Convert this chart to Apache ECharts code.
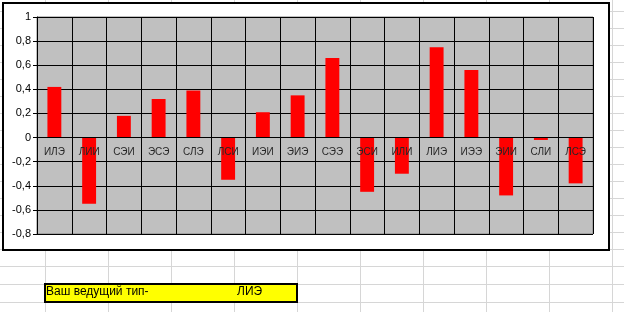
<!DOCTYPE html>
<html>
<head>
<meta charset="utf-8">
<script src="https://cdn.jsdelivr.net/npm/echarts@6/dist/echarts.min.js"></script>
<style>
  html, body { margin: 0; padding: 0; background: #ffffff; }
  #chart { width: 624px; height: 312px; }
</style>
</head>
<body>
<div id="chart"></div>
<script>
// Socionics type scores
const types = ['ИЛЭ', 'ЛИИ', 'СЭИ', 'ЭСЭ', 'СЛЭ', 'ЛСИ', 'ИЭИ', 'ЭИЭ',
               'СЭЭ', 'ЭСИ', 'ИЛИ', 'ЛИЭ', 'ИЭЭ', 'ЭИИ', 'СЛИ', 'ЛСЭ'];
const scores = [0.42, -0.55, 0.18, 0.32, 0.39, -0.35, 0.21, 0.35,
                0.66, -0.45, -0.30, 0.75, 0.56, -0.48, -0.02, -0.38];
const resultLabel = 'Ваш ведущий тип-';
const resultType = 'ЛИЭ';

const FONT = 'Arial, "Liberation Sans", sans-serif';
const GRID = { left: 37, right: 31, top: 17, bottom: 78 };
const H = 312;

// Worksheet cell lines behind the chart
const sheet = [];
for (let x = 45; x <= 624; x += 63) {
  sheet.push({ type: 'line', z: -20, silent: true,
    shape: { x1: x + 0.5, y1: 0, x2: x + 0.5, y2: 312 },
    style: { stroke: '#d6d6d6', lineWidth: 1 } });
}
const rowYs = [];
for (let y = 11; y <= 266; y += 17) rowYs.push(y);
rowYs.push(284, 302);
rowYs.forEach(y => {
  sheet.push({ type: 'line', z: -20, silent: true,
    shape: { x1: 0, y1: y + 0.5, x2: 624, y2: y + 0.5 },
    style: { stroke: '#d6d6d6', lineWidth: 1 } });
});

const chart = echarts.init(document.getElementById('chart'), null, { renderer: 'canvas' });
chart.setOption({
  animation: false,
  backgroundColor: '#ffffff',
  graphic: sheet.concat([
    // chart frame
    { type: 'rect', z: -10, silent: true,
      shape: { x: 3, y: 3, width: 606, height: 247 },
      style: { fill: '#ffffff', stroke: '#000000', lineWidth: 2 } },
    // result cell
    { type: 'rect', z: -5, silent: true,
      shape: { x: 45, y: 284, width: 252, height: 18 },
      style: { fill: '#ffff00', stroke: '#000000', lineWidth: 2 } },
    { type: 'text', z: -4, silent: true, left: 46, top: 286,
      style: { text: resultLabel, font: '12px ' + FONT, fill: '#000000' } },
    { type: 'text', z: -4, silent: true, left: 237, top: 286,
      style: { text: resultType, font: '12px ' + FONT, fill: '#000000' } }
  ]),
  grid: Object.assign({
    show: true,
    backgroundColor: '#c0c0c0',
    borderColor: '#808080',
    borderWidth: 1
  }, GRID),
  xAxis: {
    type: 'category',
    data: types,
    z: 5,
    axisLine: { show: true, onZero: false, lineStyle: { color: '#000000', width: 1 } },
    axisTick: { show: false },
    axisLabel: { color: '#262626', fontSize: 10, fontFamily: FONT, margin: 10, interval: 0 },
    splitLine: { show: true, interval: 0, lineStyle: { color: '#000000', width: 1 } }
  },
  yAxis: {
    type: 'value',
    min: -0.8, max: 1, interval: 0.2,
    axisLine: { show: true, lineStyle: { color: '#000000', width: 1 } },
    axisTick: { show: true, length: 4, lineStyle: { color: '#000000' } },
    axisLabel: {
      color: '#000000', fontSize: 11, fontFamily: FONT, margin: 6,
      formatter: v => String(Math.round(v * 10) / 10).replace('.', ',')
    },
    splitLine: { show: true, lineStyle: { color: '#000000', width: 1 } }
  },
  series: [{
    type: 'bar',
    data: scores,
    barWidth: '40%',
    itemStyle: { color: '#ff0000' },
    z: 2
  }]
});

// Move the category axis (line and labels) up to the zero value
const zeroY = chart.convertToPixel({ yAxisIndex: 0 }, 0);
const bottomY = H - GRID.bottom;
chart.setOption({ xAxis: { offset: -(bottomY - zeroY) } });
</script>
</body>
</html>
